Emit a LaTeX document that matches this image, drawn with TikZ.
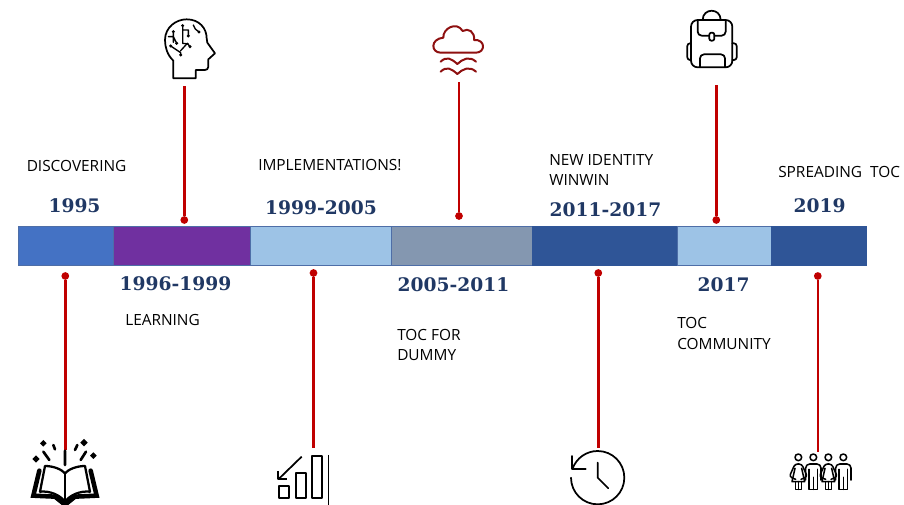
\documentclass[tikz,border=0pt]{standalone}
\usepackage{fontspec}
\setmainfont{Open Sans}
\newfontfamily\yearfont{DejaVu Serif}[BoldFont={DejaVu Serif Bold}]
\definecolor{barblue}{HTML}{4472C4}
\definecolor{barpurple}{HTML}{7030A0}
\definecolor{barlight}{HTML}{9DC3E6}
\definecolor{bargrey}{HTML}{8497B0}
\definecolor{bardark}{HTML}{2F5597}
\definecolor{yearcol}{HTML}{203864}
\definecolor{stem}{HTML}{C00000}
\definecolor{cloudcol}{HTML}{8E1010}
\tikzset{
  seg/.style={draw=bardark!85,line width=.7pt,minimum height=29.6pt,inner sep=0pt,outer sep=0pt,anchor=west},
  yearlabel/.style={font=\yearfont\bfseries\fontsize{14}{16}\selectfont,text=yearcol,inner sep=0pt},
  note/.style={font=\fontsize{11.55}{15.6}\selectfont,text=black,inner sep=0pt,anchor=west,align=left},
  pin/.style={circle,fill=stem,draw=none,minimum size=5.8pt,inner sep=0pt,outer sep=0pt},
  stemline/.style={draw=stem,line width=1.8pt},
  icon/.style={line width=1.3pt,line join=round,line cap=round},
  iconbox/.style={shift={(#1)},x=.25pt,y=-.25pt}
}
\begin{document}
\begin{tikzpicture}[x=.75pt,y=-.75pt]
\useasboundingbox (0,0) rectangle (904,505);
% bar
\node[seg,fill=barblue,minimum width=71.25pt] (s1) at (18.5,246) {};
\node[seg,fill=barpurple,minimum width=102.75pt] (s2) at (113,246) {};
\node[seg,fill=barlight,minimum width=105.75pt] (s3) at (250,246) {};
\node[seg,fill=bargrey,minimum width=105.75pt] (s4) at (391,246) {};
\node[seg,fill=bardark,draw=bardark,minimum width=108.75pt] (s5) at (532,246) {};
\node[seg,fill=barlight,minimum width=70.5pt] (s6) at (677,246) {};
\node[seg,fill=bardark,draw=bardark,minimum width=71.25pt] (s7) at (771,246) {};
% stems
\node[pin] (p1) at (65.3,276) {};   \coordinate (e1) at (65.3,450);
\node[pin] (p2) at (184.3,220) {};  \coordinate (e2) at (184.3,86);
\node[pin] (p3) at (313.5,273) {};  \coordinate (e3) at (313.5,448);
\node[pin] (p4) at (459,216) {};  \coordinate (e4) at (459,82);
\node[pin] (p5) at (598.3,273) {};  \coordinate (e5) at (598.3,448);
\node[pin] (p6) at (716.3,220) {};  \coordinate (e6) at (716.3,85);
\node[pin] (p7) at (817.8,276) {};  \coordinate (e7) at (817.8,452);
\foreach \i in {1,...,7} \draw[stemline] (p\i) -- (e\i);
% labels
\node[note] (t1) at (26.5,166) {DISCOVERING};
\node[yearlabel] (y1) at (74.5,205.7) {1995};
\node[yearlabel] (y2) at (175.5,283.7) {1996-1999};
\node[note] (t2) at (125,320) {LEARNING};
\node[note] (t3) at (258,165) {IMPLEMENTATIONS!};
\node[yearlabel] (y3) at (321,207.7) {1999-2005};
\node[yearlabel] (y4) at (453.5,284.7) {2005-2011};
\node[note] (t4) at (397,345) {TOC FOR\\DUMMY};
\node[note] (t5) at (549,170) {NEW IDENTITY\\WINWIN};
\node[yearlabel] (y5) at (605.5,209.7) {2011-2017};
\node[yearlabel] (y6) at (723.5,284.7) {2017};
\node[note] (t6) at (677,333.5) {TOC\\COMMUNITY};
\node[note] (t7) at (778,172) {SPREADING\ \ TOC};
\node[yearlabel] (y7) at (819.5,205.7) {2019};
% head icon
\begin{scope}[iconbox={150,10},icon]
\draw (70,205) -- (70,152) .. controls (52,135) and (45,112) .. (45,90) .. controls (45,52) and (78,28) .. (110,28) .. controls (148,28) and (170,55) .. (170,85) -- (172,98) -- (195,130) -- (175,148) -- (175,170) .. controls (175,177) and (170,180) .. (165,180) -- (137,180) -- (137,205) -- cycle;
\draw[line width=1pt] (70,65) -- (70,97) (55,80) -- (70,80) -- (80,100);
\draw[line width=1pt] (98,47) -- (98,100) -- (115,102) (98,60) -- (115,60) -- (115,78);
\draw[line width=1pt] (62,108) -- (92,128) -- (92,135) (92,122) -- (112,100) -- (120,110);
\draw[line width=1pt] (130,45) .. controls (132,55) and (138,60) .. (147,66);
\foreach \p in {(70,65),(80,100),(98,47),(115,78),(62,108),(92,135),(120,110),(147,66)}
  \fill \p circle (5);
\end{scope}
% cloud icon
\begin{scope}[iconbox={420,15},icon,draw=cloudcol,line width=1.5pt]
\draw (62,113) .. controls (33,113) and (30,72) .. (70,68) .. controls (68,40) and (110,18) .. (128,48) .. controls (145,38) and (165,50) .. (162,75) .. controls (197,72) and (197,113) .. (168,113) -- cycle;
\draw (62,140) .. controls (80,122) and (95,132) .. (112,147) .. controls (128,132) and (148,122) .. (168,140);
\draw (62,170) .. controls (80,152) and (95,162) .. (112,177) .. controls (128,162) and (148,152) .. (168,170);
\end{scope}
% backpack icon
\begin{scope}[iconbox={675,10},icon]
\draw[rounded corners=5pt] (48,30) rectangle (172,172);
\draw (83,30) .. controls (83,-7) and (137,-7) .. (137,30);
\draw[rounded corners=3pt] (68,32) -- (68,77) -- (152,77) -- (152,32);
\draw[fill=white,rounded corners=1.5pt] (103,68) rectangle (118,92);
\draw[rounded corners=3pt] (75,172) -- (75,133) -- (150,133) -- (150,172);
\draw[rounded corners=2pt] (48,100) -- (37,100) -- (37,150) -- (48,150);
\draw[rounded corners=2pt] (172,100) -- (185,100) -- (185,150) -- (172,150);
\end{scope}
% book icon
\begin{scope}[iconbox={20,430},icon]
\draw[line width=3.4pt,line join=miter] (58,122) -- (40,197) -- (105,200) -- (135,224) -- (165,200) -- (230,197) -- (212,122);
\draw[line width=1.7pt] (75,108) .. controls (100,108) and (125,118) .. (135,130) .. controls (145,118) and (170,108) .. (195,108) -- (210,185) .. controls (180,182) and (150,195) .. (135,215) .. controls (120,195) and (90,182) .. (60,185) -- cycle;
\draw[line width=1.7pt] (135,130) -- (135,215);
\foreach \x/\y/\r in {70/40/10,48/87/11,192/38/11,220/77/10}
  \fill (\x-\r,\y) -- (\x,\y-\r) -- (\x+\r,\y) -- (\x,\y+\r) -- cycle;
\draw[line width=2pt] (70,65) -- (88,90) (100,45) -- (105,58) (135,62) -- (135,105) (172,45) -- (165,60) (198,65) -- (182,90);
\end{scope}
% bars icon
\begin{scope}[iconbox={265,440},icon,line cap=butt]
\draw (42,138) rectangle (72,175);
\draw (92,98) rectangle (124,175);
\draw (141,48) rectangle (172,175);
\draw[line width=.9pt] (191,45) -- (191,195);
\draw (110,50) -- (40,118);
\draw (40,93) -- (40,118) -- (66,118);
\end{scope}
% clock icon
\begin{scope}[iconbox={560,440},icon]
\draw (33,113) arc[start angle=180,end angle=-160,radius=80];
\draw (37,48) -- (37,87) -- (77,87);
\draw (113,68) -- (113,113) -- (145,145);
\end{scope}
% people icon
\begin{scope}[iconbox={780,440},icon,line width=1.15pt]
\foreach \c in {55,145} {
  \draw (\c,52) circle (10);
  \draw[rounded corners=2pt] (\c-8,118) -- (\c-27,110) -- (\c-10,72) -- (\c+10,72) -- (\c+27,110) -- (\c+8,118);
  \draw (\c-10,85) -- (\c-19,125) -- (\c+19,125) -- (\c+10,85);
  \draw (\c-9,125) -- (\c-9,148) -- (\c+9,148) -- (\c+9,125) (\c,125) -- (\c,148);
}
\foreach \c in {100,190} {
  \draw (\c,52) circle (10);
  \draw[rounded corners=3pt] (\c-23,120) -- (\c-23,72) -- (\c+23,72) -- (\c+23,120);
  \draw (\c-13,88) -- (\c-13,148) -- (\c+13,148) -- (\c+13,88) (\c,112) -- (\c,148);
}
\end{scope}
\end{tikzpicture}
\end{document}
